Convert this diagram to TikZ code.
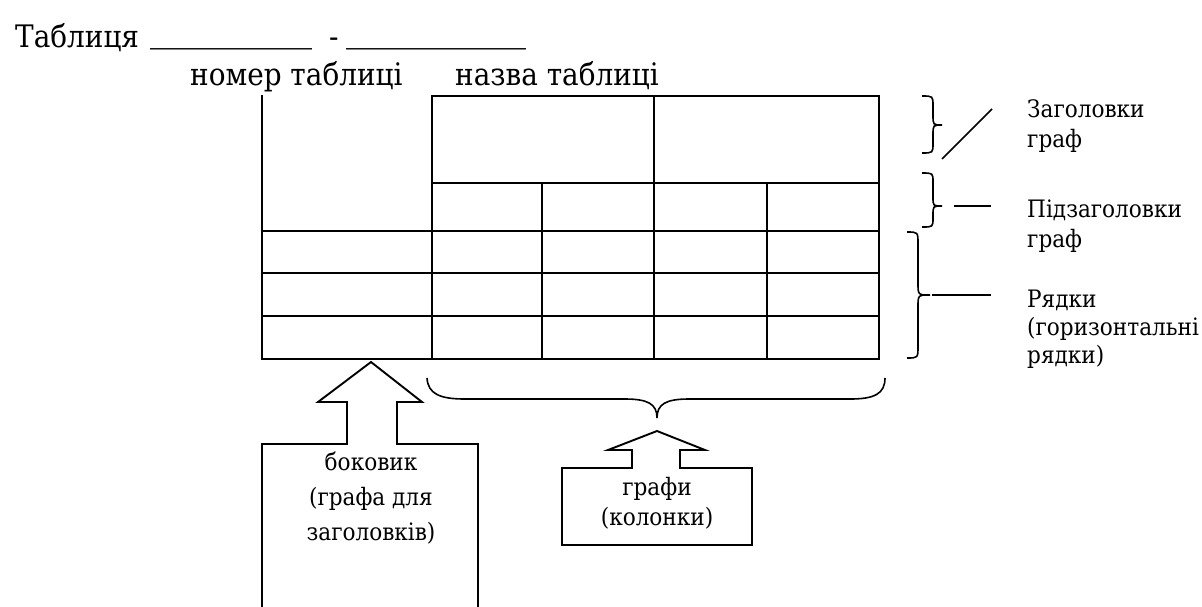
\documentclass[tikz,border=0pt]{standalone}
\usepackage{fontspec}
\setmainfont{DejaVu Serif Condensed}
\newfontfamily\ulfont{DejaVu Serif}
\begin{document}
\begin{tikzpicture}[x=1pt,y=-1pt,line join=miter,
  grid/.style={line width=2pt},
  outline/.style={line width=1.9pt},
  brc/.style={line width=1.6pt},
  conn/.style={line width=1.6pt},
  lbl/.style={font=\fontsize{24}{30}\selectfont,inner sep=0pt,anchor=base west},
  clbl/.style={font=\fontsize{24}{30}\selectfont,inner sep=0pt,anchor=base},
  ttl/.style={font=\fontsize{31}{40}\selectfont,inner sep=0pt,anchor=base west},
  uline/.style={font=\ulfont\fontsize{36}{40}\selectfont,inner sep=0pt,anchor=base west}]
\useasboundingbox (0,0) rectangle (1202,606);
\fill[white] (0,0) rectangle (1202,606);

% title
\node[ttl] (tname) at (15,47) {Таблиця};
\node[uline] (tu1) at (150,41) {\_\_\_\_\_\_\_\_\_};
\node[ttl] (tdash) at (329,47) {-};
\node[uline] (tu2) at (346,41) {\_\_\_\_\_\_\_\_\_\_};
\node[ttl] (tnum) at (190,85) {номер таблиці};
\node[ttl] (tnaz) at (455,85) {назва таблиці};

% table
\draw[grid] (262,95) -- (262,359) -- (879,359) -- (879,96) -- (432,96) -- (432,359);
\draw[grid] (654,96) -- (654,359);
\draw[grid] (432,183) -- (879,183);
\draw[grid] (542,183) -- (542,359);
\draw[grid] (767,183) -- (767,359);
\draw[grid] (262,231) -- (879,231);
\draw[grid] (262,273) -- (879,273);
\draw[grid] (262,316) -- (879,316);

% right braces
\draw[brc] (922,96) .. controls (933,96) .. (933,106) -- (933,115)
  .. controls (933,125) .. (942,125) .. controls (933,125) .. (933,135)
  -- (933,143) .. controls (933,153) .. (922,153);
\draw[brc] (922,173) .. controls (933,173) .. (933,182) -- (933,197)
  .. controls (933,206) .. (942,206) .. controls (933,206) .. (933,215)
  -- (933,218) .. controls (933,227) .. (922,227);
\draw[brc] (907,232) .. controls (918,232) .. (918,244) -- (918,283)
  .. controls (918,295) .. (930,295) .. controls (918,295) .. (918,307)
  -- (918,346) .. controls (918,358) .. (907,358);

% bottom brace
\draw[brc] (427,378) .. controls (428,394) and (440,399) .. (465,399) -- (625,399)
  .. controls (648,399) and (657,404) .. (657,418)
  .. controls (657,404) and (666,399) .. (689,399) -- (850,399)
  .. controls (874,399) and (885,394) .. (885,378);

% right labels
\node[lbl] (zg1) at (1027,117) {Заголовки};
\node[lbl] (zg2) at (1027,147) {граф};
\node[lbl] (pz1) at (1027,217) {Підзаголовки};
\node[lbl] (pz2) at (1027,247) {граф};
\node[lbl] (rd1) at (1027,307) {Рядки};
\node[lbl] (rd2) at (1027,335) {(горизонтальні};
\node[lbl] (rd3) at (1027,363) {рядки)};

\coordinate (s1a) at (942,159);
\coordinate (s1b) at (992,109);
\coordinate (s2a) at (954,206);
\coordinate (s2b) at (991,206);
\coordinate (s3a) at (932,295);
\coordinate (s3b) at (991,295);
\draw[conn] (s1a) -- (s1b);
\draw[conn] (s2a) -- (s2b);
\draw[conn] (s3a) -- (s3b);

% block arrows
\draw[outline] (262,612) -- (262,444) -- (347,444) -- (347,402) -- (318,402)
  -- (371,362) -- (422,402) -- (397,402) -- (397,444) -- (478,444) -- (478,612);
\node[clbl] (bk1) at (371,470) {боковик};
\node[clbl] (bk2) at (371,505) {(графа для};
\node[clbl] (bk3) at (371,540) {заголовків)};

\draw[outline] (562,545) -- (562,468) -- (632,468) -- (632,450) -- (608,450)
  -- (657,431) -- (705,450) -- (680,450) -- (680,468) -- (752,468) -- (752,545) -- cycle;
\node[clbl] (gr1) at (657,495) {графи};
\node[clbl] (gr2) at (657,525) {(колонки)};
\end{tikzpicture}
\end{document}
